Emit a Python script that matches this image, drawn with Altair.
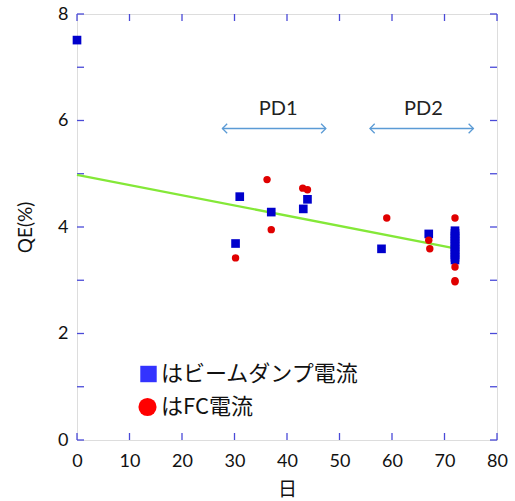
import altair as alt
import pandas as pd

# ---- data ----
beam_x = [0, 30.2, 31.0, 37.0, 43.1, 43.9, 58.0, 67.0,
          72, 72, 72, 72, 72, 72, 72, 72, 72, 72, 72, 72]
beam_y = [7.51, 3.69, 4.57, 4.28, 4.34, 4.52, 3.59, 3.87,
          3.93, 3.88, 3.83, 3.78, 3.73, 3.68, 3.63, 3.58, 3.53, 3.48, 3.43, 3.38]
fc_x = [30.2, 36.2, 37.0, 43.0, 43.9, 59.0, 67.0, 67.2, 72, 72, 72, 72]
fc_y = [3.42, 4.89, 3.95, 4.73, 4.70, 4.17, 3.75, 3.59, 4.17, 3.25, 2.99, 2.97]
series_names = ["はビームダンプ電流", "はFC電流"]

fit_x = [0, 71.5]
fit_y = [4.98, 3.61]

arrow_labels = ["PD1", "PD2"]
arrow_start = [27.7, 55.8]
arrow_end = [47.4, 75.5]
arrow_y = [5.85, 5.85]
label_x = [38.3, 66.0]
label_y = [6.21, 6.21]

x_ticks = [0, 10, 20, 30, 40, 50, 60, 70, 80]
y_ticks = [0, 1, 2, 3, 4, 5, 6, 7, 8]
y_labels = [0, 2, 4, 6, 8]

W, H = 420, 426
TICK = 7
TICK_COLOR = "#4a4ad8"
FRAME_COLOR = "#a3a3e6"

pts = pd.DataFrame({
    "x": beam_x + fc_x,
    "y": beam_y + fc_y,
    "s": [series_names[0]] * len(beam_x) + [series_names[1]] * len(fc_x),
})
fit = pd.DataFrame({"x": fit_x, "y": fit_y})
arrows = pd.DataFrame({"x": arrow_start, "x2": arrow_end, "y": arrow_y,
                       "lab": arrow_labels, "lx": label_x, "ly": label_y})
xt = pd.DataFrame({"t": x_ticks})
yt = pd.DataFrame({"t": y_ticks})

xs = alt.Scale(domain=[0, 80], nice=False, zero=False)
ys = alt.Scale(domain=[0, 8], nice=False, zero=False)

points = alt.Chart(pts).mark_point(filled=True, opacity=1).encode(
    x=alt.X("x:Q", scale=xs, title="日",
            axis=alt.Axis(values=x_ticks, tickSize=0, domain=False, grid=False,
                          labelFontSize=18, labelFont="Lato", labelColor="#111",
                          labelPadding=12, labelFlush=False,
                          titleFont="Noto Sans CJK JP",
                          titleFontSize=19, titleFontWeight="normal",
                          titleColor="#111", titlePadding=10)),
    y=alt.Y("y:Q", scale=ys, title="QE(%)",
            axis=alt.Axis(values=y_labels, tickSize=0, domain=False, grid=False,
                          labelFontSize=18, labelFont="Lato", labelColor="#111",
                          labelPadding=9, labelFlush=False, titleFont="Lato",
                          titleFontSize=19, titleFontWeight="normal",
                          titleColor="#111", titlePadding=22)),
    color=alt.Color("s:N",
                    scale=alt.Scale(domain=series_names, range=["#0000cc", "#e00000"]),
                    legend=None),
    shape=alt.Shape("s:N",
                    scale=alt.Scale(domain=series_names, range=["square", "circle"]),
                    legend=None),
    size=alt.Size("s:N", scale=alt.Scale(domain=series_names, range=[75, 55]),
                  legend=None),
)

fit_line = alt.Chart(fit).mark_line(color="#84e838", strokeWidth=2.3).encode(
    x=alt.X("x:Q", scale=xs), y=alt.Y("y:Q", scale=ys))

arrow_line = alt.Chart(arrows).mark_rule(color="#5b9bd5", strokeWidth=1.3).encode(
    x=alt.X("x:Q", scale=xs), x2="x2:Q", y=alt.Y("y:Q", scale=ys))
head_l = alt.Chart(arrows).mark_point(shape="M1,-1L0,0L1,1", filled=False,
                                      color="#5b9bd5", strokeWidth=1.3, size=90,
                                      opacity=1).encode(
    x=alt.X("x:Q", scale=xs), y=alt.Y("y:Q", scale=ys))
head_r = alt.Chart(arrows).mark_point(shape="M-1,-1L0,0L-1,1", filled=False,
                                      color="#5b9bd5", strokeWidth=1.3, size=90,
                                      opacity=1).encode(
    x=alt.X("x2:Q", scale=xs), y=alt.Y("y:Q", scale=ys))
arrow_text = alt.Chart(arrows).mark_text(font="Lato", fontSize=20, color="#222",
                                         baseline="middle").encode(
    x=alt.X("lx:Q", scale=xs), y=alt.Y("ly:Q", scale=ys), text="lab:N")

tb = alt.Chart(xt).mark_rule(color=TICK_COLOR, strokeWidth=1.3).encode(
    x=alt.X("t:Q", scale=xs), y=alt.value(H), y2=alt.value(H - TICK))
tt = alt.Chart(xt).mark_rule(color=TICK_COLOR, strokeWidth=1.3).encode(
    x=alt.X("t:Q", scale=xs), y=alt.value(0), y2=alt.value(TICK))
tl = alt.Chart(yt).mark_rule(color=TICK_COLOR, strokeWidth=1.3).encode(
    y=alt.Y("t:Q", scale=ys), x=alt.value(0), x2=alt.value(TICK))
tr = alt.Chart(yt).mark_rule(color=TICK_COLOR, strokeWidth=1.3).encode(
    y=alt.Y("t:Q", scale=ys), x=alt.value(W), x2=alt.value(W - TICK))

# ---- manual legend (inside plot, lower left) ----
leg_df = pd.DataFrame({"lab": series_names})
leg_sq = alt.Chart(leg_df).transform_filter(alt.datum.lab == series_names[0]).mark_point(
    shape="square", filled=True, color="#3333ff", opacity=1, size=270).encode(
    x=alt.value(71.5), y=alt.value(360))
leg_ci = alt.Chart(leg_df).transform_filter(alt.datum.lab == series_names[1]).mark_point(
    shape="circle", filled=True, color="#ff0000", opacity=1, size=330).encode(
    x=alt.value(70.5), y=alt.value(393))
leg_t1 = alt.Chart(leg_df).transform_filter(alt.datum.lab == series_names[0]).mark_text(
    align="left", baseline="middle", font="Noto Sans CJK JP", fontSize=22,
    color="#111").encode(x=alt.value(84), y=alt.value(360), text="lab:N")
leg_t2 = alt.Chart(leg_df).transform_filter(alt.datum.lab == series_names[1]).mark_text(
    align="left", baseline="middle", font="Noto Sans CJK JP", fontSize=22,
    color="#111").encode(x=alt.value(84), y=alt.value(393), text="lab:N")

chart = alt.layer(
    tb, tt, tl, tr, fit_line, arrow_line, head_l, head_r, arrow_text, points,
    leg_sq, leg_ci, leg_t1, leg_t2
).properties(
    width=W, height=H,
    autosize=alt.AutoSizeParams(type="none"),
    padding={"left": 77, "top": 14, "right": 18, "bottom": 61},
).configure_view(
    stroke=FRAME_COLOR, strokeWidth=1.5
).configure(background="white")

chart.save("out.html", embed_options={"renderer": "svg", "actions": False})
